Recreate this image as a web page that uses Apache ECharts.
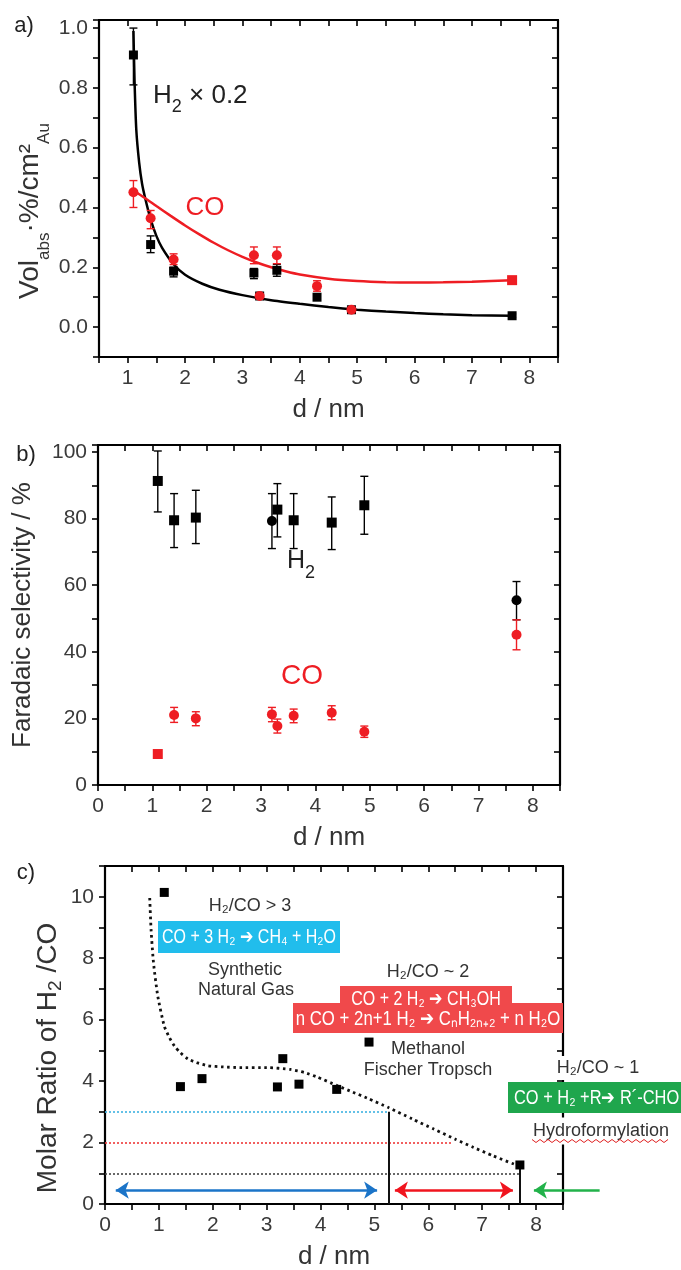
<!DOCTYPE html>
<html>
<head>
<meta charset="utf-8">
<title>Au nanoparticle size: gas uptake, Faradaic selectivity and H2/CO ratio</title>
<script src="https://cdn.jsdelivr.net/npm/echarts@6/dist/echarts.min.js"></script>
<style>
  html, body { margin: 0; padding: 0; background: #fff; }
  #chart { width: 681px; height: 1270px; }
</style>
</head>
<body>
<div id="chart"></div>
<script>
// ---------- data ----------
// Au particle diameters (nm)
const diameters = [1.1, 1.4, 1.8, 3.2, 3.3, 3.6, 4.3, 4.9, 7.7];

// (a) absorbed volume per Au surface area (H2 scaled by 0.2)
const volH2   = [0.91, 0.276, 0.187, 0.181, 0.104, 0.19, 0.10, 0.058, 0.038];
const volH2Lo = [0.81, 0.249, 0.168, 0.162, 0.096, 0.17, 0.093, 0.051, 0.032];
const volH2Hi = [1.00, 0.305, 0.200, 0.196, 0.112, 0.21, 0.107, 0.065, 0.044];
const volCO   = [0.451, 0.364, 0.226, 0.240, 0.104, 0.240, 0.137, 0.058, 0.157];
const volCOLo = [0.400, 0.329, 0.209, 0.212, 0.096, 0.212, 0.120, 0.051, 0.150];
const volCOHi = [0.490, 0.390, 0.245, 0.268, 0.112, 0.268, 0.155, 0.065, 0.164];
// fitted trends [d, value]
const fitH2 = [[1.1, 0.99], [1.12, 0.82], [1.15, 0.66], [1.2, 0.55], [1.25, 0.48], [1.3, 0.435],
  [1.4, 0.36], [1.5, 0.305], [1.6, 0.265], [1.8, 0.21], [2.0, 0.175], [2.3, 0.145], [2.6, 0.125],
  [3.0, 0.107], [3.5, 0.09], [4.0, 0.078], [4.5, 0.067], [5.0, 0.058], [5.5, 0.052], [6.0, 0.047],
  [6.5, 0.043], [7.0, 0.04], [7.7, 0.038]];
const fitCO = [[1.1, 0.457], [1.3, 0.432], [1.5, 0.405], [1.75, 0.372], [2.0, 0.34], [2.25, 0.31],
  [2.5, 0.282], [2.75, 0.257], [3.0, 0.235], [3.25, 0.216], [3.5, 0.2], [3.75, 0.187], [4.0, 0.176],
  [4.5, 0.162], [5.0, 0.154], [5.5, 0.15], [6.0, 0.149], [6.5, 0.15], [7.0, 0.152], [7.7, 0.157]];

// (b) Faradaic selectivity (%)
const feH2   = [91.3, 79.5, 80.3, 79.3, 82.7, 79.5, 78.8, 84.0, 55.5];
const feH2Lo = [82.0, 71.3, 72.5, 71.0, 74.5, 71.0, 70.7, 75.3, 49.6];
const feH2Hi = [100.3, 87.5, 88.5, 87.5, 90.5, 87.5, 86.5, 92.7, 61.1];
const feCO   = [9.3, 21.0, 20.0, 21.2, 17.7, 20.8, 21.7, 16.0, 45.1];
const feCOLo = [null, 18.8, 17.8, 19.0, 15.6, 18.7, 19.6, 14.3, 40.6];
const feCOHi = [null, 23.3, 22.0, 23.3, 19.8, 22.8, 23.8, 17.7, 49.6];

// (c) molar ratio H2/CO
const ratio = [10.14, 3.82, 4.08, 3.81, 4.73, 3.9, 3.73, 5.27, 1.27];
const ratioTrend = [[0.83, 9.96], [0.855, 8.93], [0.9, 7.85], [0.98, 6.76], [1.1, 5.79], [1.2, 5.4],
  [1.29, 5.14], [1.4, 4.92], [1.54, 4.72], [1.7, 4.6], [1.91, 4.5], [2.2, 4.46], [2.5, 4.44],
  [3.0, 4.44], [3.44, 4.38], [3.7, 4.28], [3.94, 4.13], [4.3, 3.86], [4.6, 3.64], [4.86, 3.45],
  [5.26, 3.14], [5.7, 2.77], [6.1, 2.44], [6.5, 2.11], [6.84, 1.84], [7.2, 1.57], [7.59, 1.3], [7.7, 1.25]];
const ratioLevels = [3, 2, 1];          // target H2/CO levels
const levelEnds   = [5.26, 6.45, 7.7];  // diameter where each level guide stops
const regimeBounds = [5.26, 7.7];       // regime boundaries (nm)
const spanSNG  = [0.2, 5.05];           // synthetic natural gas range
const spanMeOH = [5.38, 7.57];          // methanol / Fischer-Tropsch range
const spanHF   = [9.18, 7.96];          // hydroformylation (pointing down to 8 nm)
const spanLevel = 0.45;

// ---------- helpers ----------
const FONT = "'Liberation Sans', Arial, Helvetica, sans-serif";
const RED = '#ee1d23';
const TICK_COLOR = '#3a3a3a';

function near(v, k) { return Math.abs(v - k) < 1e-6; }
function intOnly(v) {
  const r = Math.round(v);
  return near(v, r) && r <= 8 ? String(r) : '';
}
function fmtA(v) {
  const k = Math.round(v * 10);
  if (!near(v * 10, k) || k < 0 || k > 10 || k % 2) return '';
  return (k / 10).toFixed(1);
}
function fmtStep(step, top) {
  return function (v) {
    const r = Math.round(v);
    if (!near(v, r) || r % step || r > top || r < 0) return '';
    return String(r);
  };
}

function bottomAxis(gi, min, max) {
  return {
    type: 'value', gridIndex: gi, position: 'bottom', min: min, max: max, interval: 0.5,
    axisLine: { show: true, onZero: false, lineStyle: { color: '#000', width: 2.2 } },
    axisTick: { show: true, inside: false, length: 6, lineStyle: { color: '#000', width: 1.6 } },
    axisLabel: { show: true, interval: 0, margin: 11, color: TICK_COLOR, fontSize: 21, fontFamily: FONT, formatter: intOnly },
    splitLine: { show: false },
    name: 'd / nm', nameLocation: 'middle', nameGap: 40,
    nameTextStyle: { fontSize: 26, color: '#333', fontFamily: FONT }
  };
}
function topAxis(gi, min, max) {
  return {
    type: 'value', gridIndex: gi, position: 'top', min: min, max: max, interval: 0.5,
    axisLine: { show: true, onZero: false, lineStyle: { color: '#000', width: 2.2 } },
    axisTick: { show: true, inside: true, length: 6, lineStyle: { color: '#000', width: 1.6 } },
    axisLabel: { show: false }, splitLine: { show: false }
  };
}
function leftAxis(gi, min, max, interval, fmt) {
  return {
    type: 'value', gridIndex: gi, position: 'left', min: min, max: max, interval: interval,
    axisLine: { show: true, onZero: false, lineStyle: { color: '#000', width: 2.2 } },
    axisTick: { show: true, inside: false, length: 6, lineStyle: { color: '#000', width: 1.6 } },
    axisLabel: { show: true, interval: 0, margin: 11, color: TICK_COLOR, fontSize: 21, fontFamily: FONT, formatter: fmt },
    splitLine: { show: false }
  };
}
function rightAxis(gi, min, max, interval) {
  return {
    type: 'value', gridIndex: gi, position: 'right', min: min, max: max, interval: interval,
    axisLine: { show: true, onZero: false, lineStyle: { color: '#000', width: 2.2 } },
    axisTick: { show: true, inside: true, length: 6, lineStyle: { color: '#000', width: 1.6 } },
    axisLabel: { show: false }, splitLine: { show: false }
  };
}

// vertical error bars with caps
function errorBars(color) {
  return function (params, api) {
    const x = api.value(0);
    const lo = api.coord([x, api.value(1)]);
    const hi = api.coord([x, api.value(2)]);
    const cap = 4;
    const style = { stroke: color, lineWidth: 1.4 };
    return {
      type: 'group',
      children: [
        { type: 'line', shape: { x1: lo[0], y1: lo[1], x2: hi[0], y2: hi[1] }, style: style },
        { type: 'line', shape: { x1: lo[0] - cap, y1: lo[1], x2: lo[0] + cap, y2: lo[1] }, style: style },
        { type: 'line', shape: { x1: hi[0] - cap, y1: hi[1], x2: hi[0] + cap, y2: hi[1] }, style: style }
      ]
    };
  };
}
function errData(lo, hi) {
  const out = [];
  diameters.forEach(function (d, i) {
    if (lo[i] != null && hi[i] != null) out.push([d, lo[i], hi[i]]);
  });
  return out;
}
function pairs(vals) { return diameters.map(function (d, i) { return [d, vals[i]]; }); }

function errSeries(ax, lo, hi, color) {
  return {
    type: 'custom', xAxisIndex: ax, yAxisIndex: ax, renderItem: errorBars(color),
    encode: { x: 0, y: [1, 2] }, data: errData(lo, hi), z: 3, silent: true
  };
}
function pointSeries(ax, vals, color, shapeFn, size) {
  return {
    type: 'scatter', xAxisIndex: ax, yAxisIndex: ax, data: pairs(vals),
    symbol: shapeFn, symbolSize: size, itemStyle: { color: color, opacity: 1 }, z: 4, silent: true
  };
}
function curveSeries(ax, pts, lineStyle) {
  return {
    type: 'line', xAxisIndex: ax, yAxisIndex: ax, data: pts, showSymbol: false, symbol: 'none',
    smooth: 0.2, lineStyle: lineStyle, z: 2, silent: true
  };
}

// ---------- chart ----------
const chart = echarts.init(document.getElementById('chart'));

const text = function (x, y, str, extra, scaleX) {
  return {
    type: 'text', x: x, y: y, z: 60, scaleX: scaleX || 1,
    style: Object.assign({ text: str, fontFamily: FONT, fontSize: 18, fill: '#333', align: 'center', verticalAlign: 'middle' }, extra || {})
  };
};
const boxText = function (x, y, str, align, scaleX) {
  return text(x, y, str, { fontSize: 20, fill: '#fff', align: align || 'center' }, scaleX || 0.8);
};

// red wavy underline under "Hydroformylation"
const wave = [];
for (let i = 0; i <= 34; i++) wave.push([532 + i * 4, 1141 + (i % 2 ? 1.5 : -1.5)]);

const option = {
  backgroundColor: '#fff',
  animation: false,
  grid: [
    { left: 99, top: 20, width: 459, height: 337, outerBoundsMode: 'none' },
    { left: 98, top: 445, width: 462, height: 340, outerBoundsMode: 'none' },
    { left: 105, top: 866, width: 458, height: 338, outerBoundsMode: 'none' }
  ],
  xAxis: [
    bottomAxis(0, 0.5, 8.5), topAxis(0, 0.5, 8.5),
    bottomAxis(1, 0, 8.5), topAxis(1, 0, 8.5),
    bottomAxis(2, 0, 8.5), topAxis(2, 0, 8.5)
  ],
  yAxis: [
    leftAxis(0, -0.1, 1.027, 0.1, fmtA), rightAxis(0, -0.1, 1.027, 0.1),
    leftAxis(1, 0, 102.1, 10, fmtStep(20, 100)), rightAxis(1, 0, 102.1, 10),
    leftAxis(2, 0, 11, 1, fmtStep(2, 10)), rightAxis(2, 0, 11, 1)
  ],
  series: [
    // (a)
    curveSeries(0, fitH2, { color: '#000', width: 2.5 }),
    curveSeries(0, fitCO, { color: RED, width: 2.5 }),
    errSeries(0, volH2Lo, volH2Hi, '#000'),
    errSeries(0, volCOLo, volCOHi, RED),
    pointSeries(0, volH2, '#000', 'rect', 9),
    pointSeries(0, volCO, RED, function (v, p) { return p.dataIndex === 8 ? 'rect' : 'circle'; }, 10),

    // (b)
    errSeries(2, feH2Lo, feH2Hi, '#000'),
    errSeries(2, feCOLo, feCOHi, RED),
    pointSeries(2, feH2, '#000', function (v, p) { return (p.dataIndex === 3 || p.dataIndex === 8) ? 'circle' : 'rect'; }, 10),
    pointSeries(2, feCO, RED, function (v, p) { return p.dataIndex === 0 ? 'rect' : 'circle'; }, 10),

    // (c) level guides
    { type: 'lines', coordinateSystem: 'cartesian2d', xAxisIndex: 4, yAxisIndex: 4, clip: false, silent: true, z: 2,
      symbol: ['none', 'none'],
      data: ratioLevels.map(function (lv, i) {
        const colors = ['#3fb2e2', '#ee3a3a', '#444'];
        return { coords: [[0, lv], [levelEnds[i], lv]], lineStyle: { color: colors[i] } };
      }),
      lineStyle: { type: [2, 2], width: 1.6, opacity: 1 } },
    // regime boundaries
    { type: 'lines', coordinateSystem: 'cartesian2d', xAxisIndex: 4, yAxisIndex: 4, clip: false, silent: true, z: 3,
      symbol: ['none', 'none'],
      data: [
        { coords: [[regimeBounds[0], 0], [regimeBounds[0], ratioLevels[0]]] },
        { coords: [[regimeBounds[1], 0], [regimeBounds[1], ratio[8]]] }
      ],
      lineStyle: { color: '#111', width: 2, opacity: 1 } },
    // range arrows
    { type: 'lines', coordinateSystem: 'cartesian2d', xAxisIndex: 4, yAxisIndex: 4, clip: false, silent: true, z: 3,
      symbol: ['arrow', 'arrow'], symbolSize: 13,
      data: [{ coords: [[spanSNG[0], spanLevel], [spanSNG[1], spanLevel]] }],
      lineStyle: { color: '#1b74c8', width: 2.5, opacity: 1 } },
    { type: 'lines', coordinateSystem: 'cartesian2d', xAxisIndex: 4, yAxisIndex: 4, clip: false, silent: true, z: 3,
      symbol: ['arrow', 'arrow'], symbolSize: 13,
      data: [{ coords: [[spanMeOH[0], spanLevel], [spanMeOH[1], spanLevel]] }],
      lineStyle: { color: '#f0141e', width: 2.5, opacity: 1 } },
    { type: 'lines', coordinateSystem: 'cartesian2d', xAxisIndex: 4, yAxisIndex: 4, clip: false, silent: true, z: 3,
      symbol: ['none', 'arrow'], symbolSize: 13,
      data: [{ coords: [[spanHF[0], spanLevel], [spanHF[1], spanLevel]] }],
      lineStyle: { color: '#22b24a', width: 2.5, opacity: 1 } },
    // dotted trend
    Object.assign(curveSeries(4, ratioTrend, { color: '#111', width: 2.8, type: [2.6, 3.6] }), { z: 4 }),
    pointSeries(4, ratio, '#000', 'rect', 9)
  ],
  graphic: {
    elements: [
      // panel tags
      text(24, 26, 'a)', { fontSize: 22, fill: '#222' }),
      text(26, 455, 'b)', { fontSize: 22, fill: '#222' }),
      text(26, 873, 'c)', { fontSize: 22, fill: '#222' }),

      // y-axis titles
      { type: 'text', x: 30, y: 211, rotation: Math.PI / 2, z: 60,
        style: { text: '{n|Vol}{s|abs}{n|·%/cm²}{s|Au}', align: 'center', verticalAlign: 'middle',
          rich: { n: { fontSize: 28, fontFamily: FONT, fill: '#333' },
                  s: { fontSize: 17, fontFamily: FONT, fill: '#333', padding: [28, 0, 0, 0] } } } },
      { type: 'text', x: 23, y: 615, rotation: Math.PI / 2, z: 60,
        style: { text: 'Faradaic selectivity / %', fontSize: 26, fontFamily: FONT, fill: '#333', align: 'center', verticalAlign: 'middle' } },
      { type: 'text', x: 48, y: 1058, rotation: Math.PI / 2, z: 60,
        style: { text: '{n|Molar Ratio of H}{s|2}{n| /CO}', align: 'center', verticalAlign: 'middle',
          rich: { n: { fontSize: 28, fontFamily: FONT, fill: '#333' },
                  s: { fontSize: 19, fontFamily: FONT, fill: '#333', padding: [16, 0, 0, 0] } } } },

      // (a) series tags
      { type: 'text', x: 153, y: 96, z: 60,
        style: { text: '{n|H}{s|2}{n| × 0.2}', align: 'left', verticalAlign: 'middle',
          rich: { n: { fontSize: 26, fontFamily: FONT, fill: '#222' },
                  s: { fontSize: 18, fontFamily: FONT, fill: '#222', padding: [22, 0, 0, 0] } } } },
      text(205, 208, 'CO', { fontSize: 26, fill: RED }),

      // (b) series tags
      { type: 'text', x: 287, y: 561, z: 60,
        style: { text: '{n|H}{s|2}', align: 'left', verticalAlign: 'middle',
          rich: { n: { fontSize: 25, fontFamily: FONT, fill: '#222' },
                  s: { fontSize: 18, fontFamily: FONT, fill: '#222', padding: [24, 0, 0, 0] } } } },
      text(302, 676, 'CO', { fontSize: 28, fill: RED }),

      // (c) synthetic natural gas
      text(250, 906, 'H₂/CO > 3'),
      { type: 'rect', z: 50, shape: { x: 158, y: 921, width: 182, height: 32 }, style: { fill: '#21bdec' } },
      boxText(249, 937, 'CO + 3 H₂ ➔ CH₄ + H₂O'),
      text(245, 970, 'Synthetic'),
      text(246, 990, 'Natural Gas'),

      // (c) methanol / Fischer-Tropsch
      text(428, 972, 'H₂/CO ~ 2'),
      { type: 'rect', z: 50, shape: { x: 340, y: 986, width: 172, height: 19 }, style: { fill: '#f0494b' } },
      { type: 'rect', z: 50, shape: { x: 293, y: 1003, width: 270, height: 30 }, style: { fill: '#f0494b' } },
      boxText(426, 999, 'CO + 2 H₂ ➔ CH₃OH'),
      boxText(428, 1019, 'n CO + 2n+1 H₂ ➔ CₙH₂ₙ₊₂ + n H₂O', 'center', 0.84),
      text(428, 1049, 'Methanol'),
      text(428, 1070, 'Fischer Tropsch'),

      // (c) hydroformylation
      text(598, 1068, 'H₂/CO ~ 1', { backgroundColor: '#fff', padding: [3, 4, 3, 4] }),
      { type: 'rect', z: 50, shape: { x: 508, y: 1082, width: 180, height: 31 }, style: { fill: '#1fa64d' } },
      boxText(514, 1098, 'CO + H₂ +R➔ R´-CHO', 'left', 0.82),
      text(601, 1131, 'Hydroformylation', { backgroundColor: '#fff', padding: [3, 2, 6, 2] }),
      { type: 'polyline', z: 61, shape: { points: wave }, style: { stroke: '#e02020', lineWidth: 1, fill: null } }
    ]
  }
};

chart.setOption(option);
</script>
</body>
</html>
